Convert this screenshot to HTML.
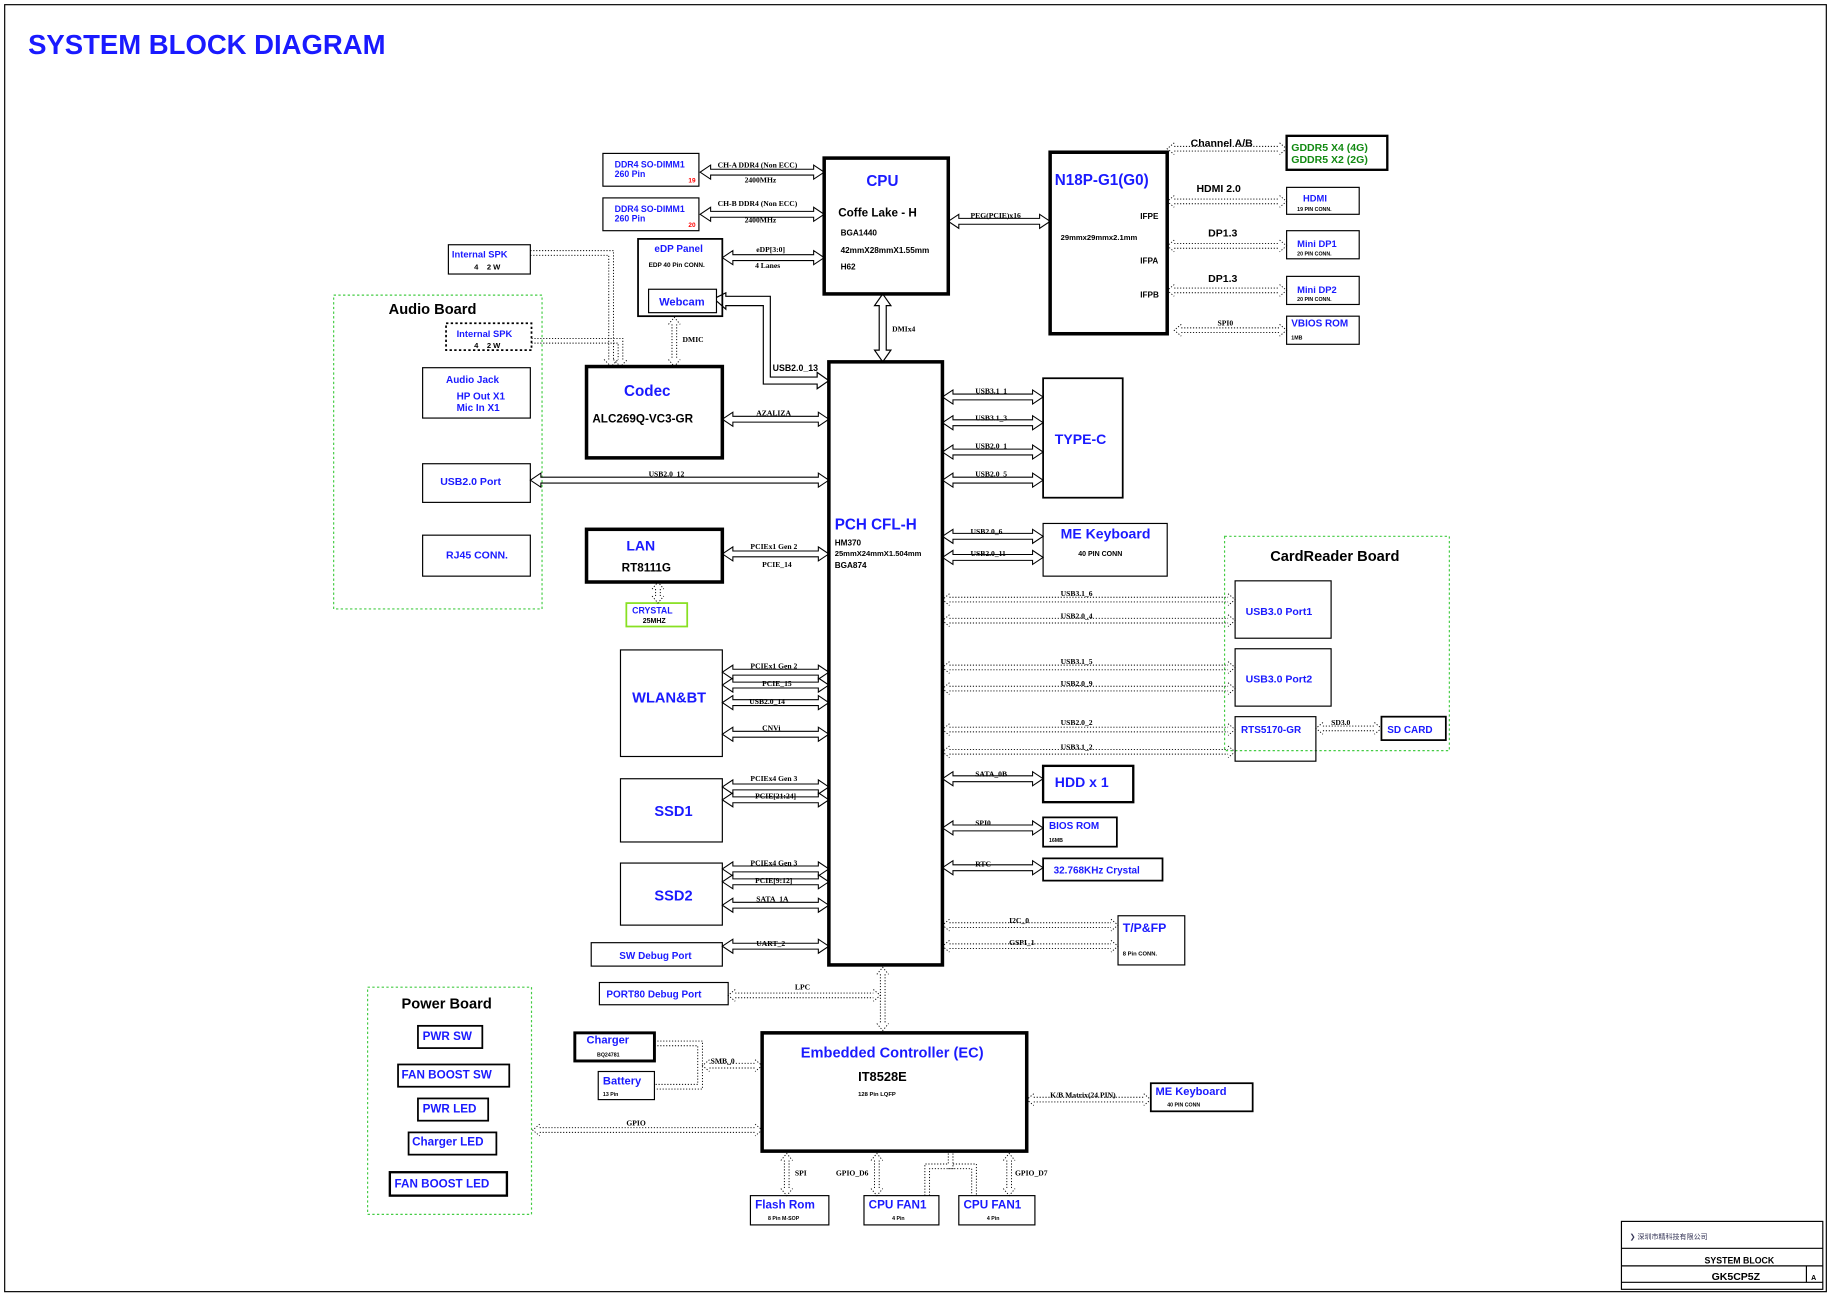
<!DOCTYPE html>
<html><head><meta charset="utf-8"><style>
html,body{margin:0;padding:0;background:#fff;width:1831px;height:1294px;overflow:hidden}
svg{display:block}
.b{font-family:"Liberation Sans",sans-serif;font-weight:bold;fill:#1a1aff}
.k{font-family:"Liberation Sans",sans-serif;font-weight:bold;fill:#000}
.s{font-family:"Liberation Serif",serif;font-weight:bold;fill:#000;font-size:6.5px}
.g{font-family:"Liberation Sans",sans-serif;font-weight:bold;fill:#128a12}
rect{fill:none;stroke:#000}
rect.gr{stroke:#44cc44}
rect.cy{stroke:#88e022}
</style></head><body>
<svg id="s" width="1831" height="1294" viewBox="0 0 1564 1105" preserveAspectRatio="none" xmlns="http://www.w3.org/2000/svg">
<rect x="4" y="4" width="1556" height="1099" stroke-width="1"/>
<text x="24" y="46" class="b" font-size="23.5">SYSTEM BLOCK DIAGRAM</text>

<!-- DDR -->
<rect x="515" y="131" width="82" height="28"/>
<text x="525" y="143" class="b" font-size="7.5">DDR4 SO-DIMM1</text><text x="525" y="151" class="b" font-size="7.5">260 Pin</text><text x="588" y="156" font-size="5.5" fill="red" font-family="Liberation Sans" font-weight="bold">19</text>
<rect x="515" y="169" width="82" height="28"/>
<text x="525" y="181" class="b" font-size="7.5">DDR4 SO-DIMM1</text><text x="525" y="189" class="b" font-size="7.5">260 Pin</text><text x="588" y="194" font-size="5.5" fill="red" font-family="Liberation Sans" font-weight="bold">20</text>
<text x="613" y="143" class="s">CH-A DDR4 (Non ECC)</text><text x="636" y="156" class="s">2400MHz</text>
<text x="613" y="176" class="s">CH-B DDR4 (Non ECC)</text><text x="636" y="190" class="s">2400MHz</text>

<!-- CPU -->
<rect x="704" y="135" width="106" height="116" stroke-width="3"/>
<text x="740" y="159" class="b" font-size="13">CPU</text>
<text x="716" y="185" class="k" font-size="10">Coffe Lake - H</text>
<text x="718" y="201" class="k" font-size="7">BGA1440</text>
<text x="718" y="216" class="k" font-size="7">42mmX28mmX1.55mm</text>
<text x="718" y="230" class="k" font-size="7">H62</text>
<text x="829" y="186" class="s">PEG(PCIE)x16</text>
<text x="762" y="283" class="s">DMIx4</text>

<!-- eDP -->
<rect x="545" y="204" width="72" height="66" stroke-width="1.5"/>
<text x="559" y="215" class="b" font-size="8.5">eDP Panel</text>
<text x="554" y="228" class="k" font-size="5.5">EDP 40 Pin CONN.</text>
<rect x="554" y="247" width="58" height="20"/>
<text x="563" y="261" class="b" font-size="9.5">Webcam</text>
<text x="646" y="215" class="s">eDP[3:0]</text><text x="645" y="229" class="s">4 Lanes</text>
<text x="583" y="292" class="s">DMIC</text>

<!-- GPU -->
<rect x="897" y="130" width="100" height="155" stroke-width="3"/>
<text x="901" y="158" class="b" font-size="13">N18P-G1(G0)</text>
<text x="974" y="187" class="k" font-size="7">IFPE</text>
<text x="906" y="205" class="k" font-size="6.5">29mmx29mmx2.1mm</text>
<text x="974" y="225" class="k" font-size="7">IFPA</text>
<text x="974" y="254" class="k" font-size="7">IFPB</text>
<text x="1017" y="125" class="k" font-size="9">Channel A/B</text>
<text x="1022" y="164" class="k" font-size="9">HDMI 2.0</text>
<text x="1032" y="202" class="k" font-size="9">DP1.3</text>
<text x="1032" y="241" class="k" font-size="9">DP1.3</text>
<text x="1040" y="278" class="s">SPI0</text>
<rect x="1099" y="116" width="86" height="29" stroke-width="2"/>
<text x="1103" y="129" class="g" font-size="9">GDDR5 X4 (4G)</text><text x="1103" y="139" class="g" font-size="9">GDDR5 X2 (2G)</text>
<rect x="1099" y="160" width="62" height="23"/>
<text x="1113" y="172" class="b" font-size="8">HDMI</text><text x="1108" y="180" class="k" font-size="4.5">19 PIN CONN.</text>
<rect x="1099" y="197" width="62" height="24"/>
<text x="1108" y="211" class="b" font-size="8">Mini DP1</text><text x="1108" y="218" class="k" font-size="4.5">20 PIN CONN.</text>
<rect x="1099" y="236" width="62" height="24"/>
<text x="1108" y="250" class="b" font-size="8">Mini DP2</text><text x="1108" y="257" class="k" font-size="4.5">20 PIN CONN.</text>
<rect x="1099" y="270" width="62" height="24"/>
<text x="1103" y="279" class="b" font-size="8.5">VBIOS ROM</text><text x="1103" y="290" class="k" font-size="4.5">1MB</text>

<!-- Audio -->
<rect x="383" y="209" width="70" height="25"/>
<text x="386" y="220" class="b" font-size="8">Internal SPK</text><text x="405" y="230" class="k" font-size="6.5">4&#160;&#160;&#160;&#160;2 W</text>
<rect x="285" y="252" width="178" height="268" class="gr" stroke-dasharray="2,2"/>
<text x="332" y="268" class="k" font-size="12.5">Audio Board</text>
<rect x="381" y="276" width="73" height="23" stroke-dasharray="2,2" stroke-width="1.5"/>
<text x="390" y="288" class="b" font-size="8">Internal SPK</text><text x="405" y="297" class="k" font-size="6.5">4&#160;&#160;&#160;&#160;2 W</text>
<rect x="361" y="314" width="92" height="43"/>
<text x="381" y="327" class="b" font-size="8.5">Audio Jack</text><text x="390" y="341" class="b" font-size="8.5">HP Out X1</text><text x="390" y="351" class="b" font-size="8.5">Mic In X1</text>
<rect x="361" y="396" width="92" height="33"/>
<text x="376" y="414" class="b" font-size="9">USB2.0 Port</text>
<rect x="361" y="457" width="92" height="35"/>
<text x="381" y="477" class="b" font-size="9">RJ45 CONN.</text>

<!-- Codec -->
<rect x="501" y="313" width="116" height="78" stroke-width="3"/>
<text x="533" y="338" class="b" font-size="13">Codec</text>
<text x="506" y="361" class="k" font-size="10">ALC269Q-VC3-GR</text>
<text x="646" y="355" class="s">AZALIZA</text>
<text x="660" y="317" class="k" font-size="7.5">USB2.0_13</text>
<text x="554" y="407" class="s">USB2.0_12</text>

<!-- LAN -->
<rect x="501" y="452" width="116" height="45" stroke-width="3"/>
<text x="535" y="470" class="b" font-size="12">LAN</text>
<text x="531" y="488" class="k" font-size="10">RT8111G</text>
<text x="641" y="469" class="s">PCIEx1 Gen 2</text><text x="651" y="484" class="s">PCIE_14</text>
<rect x="535" y="515" width="52" height="20" class="cy" stroke-width="1.5"/>
<text x="540" y="524" class="b" font-size="7.5">CRYSTAL</text><text x="549" y="532" class="k" font-size="6">25MHZ</text>

<!-- WLAN, SSD -->
<rect x="530" y="555" width="87" height="91"/>
<text x="540" y="600" class="b" font-size="12.5">WLAN&amp;BT</text>
<text x="641" y="571" class="s">PCIEx1 Gen 2</text><text x="651" y="586" class="s">PCIE_15</text><text x="640" y="601" class="s">USB2.0_14</text><text x="651" y="624" class="s">CNVi</text>
<rect x="530" y="665" width="87" height="54"/>
<text x="559" y="697" class="b" font-size="12.5">SSD1</text>
<text x="641" y="667" class="s">PCIEx4 Gen 3</text><text x="645" y="682" class="s">PCIE[21:24]</text>
<rect x="530" y="737" width="87" height="53"/>
<text x="559" y="769" class="b" font-size="12.5">SSD2</text>
<text x="641" y="739" class="s">PCIEx4 Gen 3</text><text x="645" y="754" class="s">PCIE[9:12]</text><text x="646" y="770" class="s">SATA_1A</text>
<rect x="505" y="805" width="112" height="20"/>
<text x="529" y="819" class="b" font-size="8.5">SW Debug Port</text>
<text x="646" y="808" class="s">UART_2</text>
<rect x="512" y="839" width="110" height="19"/>
<text x="518" y="852" class="b" font-size="8.5">PORT80 Debug Port</text>
<text x="679" y="845" class="s">LPC</text>

<!-- PCH -->
<rect x="708" y="309" width="97" height="515" stroke-width="3"/>
<text x="713" y="452" class="b" font-size="13">PCH CFL-H</text>
<text x="713" y="466" class="k" font-size="7">HM370</text>
<text x="713" y="475" class="k" font-size="6.5">25mmX24mmX1.504mm</text>
<text x="713" y="485" class="k" font-size="7">BGA874</text>

<rect x="891" y="323" width="68" height="102" stroke-width="1.5"/>
<text x="901" y="379" class="b" font-size="12">TYPE-C</text>
<text x="833" y="336" class="s">USB3.1_1</text><text x="833" y="359" class="s">USB3.1_3</text><text x="833" y="383" class="s">USB2.0_1</text><text x="833" y="407" class="s">USB2.0_5</text>
<rect x="891" y="447" width="106" height="45"/>
<text x="906" y="460" class="b" font-size="12">ME Keyboard</text><text x="921" y="475" class="k" font-size="6">40 PIN CONN</text>
<text x="829" y="456" class="s">USB2.0_6</text><text x="829" y="475" class="s">USB2.0_11</text>

<rect x="1046" y="458" width="192" height="183" class="gr" stroke-dasharray="2,2"/>
<text x="1085" y="479" class="k" font-size="12.5">CardReader Board</text>
<rect x="1055" y="496" width="82" height="49"/>
<text x="1064" y="525" class="b" font-size="9">USB3.0 Port1</text>
<rect x="1055" y="554" width="82" height="49"/>
<text x="1064" y="583" class="b" font-size="9">USB3.0 Port2</text>
<rect x="1055" y="612" width="69" height="38"/>
<text x="1060" y="626" class="b" font-size="8.5">RTS5170-GR</text>
<rect x="1180" y="612" width="55" height="20" stroke-width="1.5"/>
<text x="1185" y="626" class="b" font-size="8.5">SD CARD</text>
<text x="1137" y="619" class="s">SD3.0</text>
<text x="906" y="509" class="s">USB3.1_6</text><text x="906" y="528" class="s">USB2.0_4</text>
<text x="906" y="567" class="s">USB3.1_5</text><text x="906" y="586" class="s">USB2.0_9</text>
<text x="906" y="619" class="s">USB2.0_2</text><text x="906" y="640" class="s">USB3.1_2</text>

<rect x="891" y="654" width="77" height="31" stroke-width="2"/>
<text x="901" y="672" class="b" font-size="12">HDD x 1</text>
<text x="833" y="663" class="s">SATA_0B</text>
<rect x="891" y="698" width="63" height="25" stroke-width="1.5"/>
<text x="896" y="708" class="b" font-size="8.5">BIOS ROM</text><text x="896" y="719" class="k" font-size="4.5">16MB</text>
<text x="833" y="705" class="s">SPI0</text>
<rect x="891" y="733" width="102" height="19" stroke-width="1.5"/>
<text x="900" y="746" class="b" font-size="8.5">32.768KHz Crystal</text>
<text x="833" y="740" class="s">RTC</text>
<rect x="955" y="782" width="57" height="42"/>
<text x="959" y="796" class="b" font-size="10.5">T/P&amp;FP</text><text x="959" y="816" class="k" font-size="5">8 Pin CONN.</text>
<text x="862" y="788" class="s">I2C_0</text><text x="862" y="807" class="s">GSPI_1</text>

<!-- Power -->
<rect x="314" y="843" width="140" height="194" class="gr" stroke-dasharray="2,2"/>
<text x="343" y="861" class="k" font-size="12.5">Power Board</text>
<rect x="357" y="876" width="55" height="19" stroke-width="1.5"/><text x="361" y="888" class="b" font-size="10">PWR SW</text>
<rect x="340" y="909" width="95" height="19" stroke-width="1.5"/><text x="343" y="921" class="b" font-size="10">FAN BOOST SW</text>
<rect x="357" y="938" width="60" height="19" stroke-width="1.5"/><text x="361" y="950" class="b" font-size="10">PWR LED</text>
<rect x="349" y="967" width="75" height="19" stroke-width="1.5"/><text x="352" y="978" class="b" font-size="10">Charger LED</text>
<rect x="333" y="1001" width="100" height="20" stroke-width="2"/><text x="337" y="1014" class="b" font-size="10">FAN BOOST LED</text>
<text x="535" y="961" class="s">GPIO</text>

<rect x="491" y="882" width="68" height="24" stroke-width="2.5"/>
<text x="501" y="891" class="b" font-size="9.5">Charger</text><text x="510" y="902" class="k" font-size="4.5" fill="#888">BQ24781</text>
<rect x="511" y="915" width="48" height="24"/>
<text x="515" y="926" class="b" font-size="9.5">Battery</text><text x="515" y="936" class="k" font-size="4.5">13 Pin</text>
<text x="607" y="908" class="s">SMB_0</text>

<rect x="651" y="882" width="226" height="101" stroke-width="3"/>
<text x="684" y="903" class="b" font-size="12.5">Embedded Controller (EC)</text>
<text x="733" y="923" class="k" font-size="11">IT8528E</text>
<text x="733" y="936" class="k" font-size="5">128 Pin LQFP</text>
<text x="897" y="937" class="s">K/B Matrix(24 PIN)</text>
<rect x="983" y="925" width="87" height="24" stroke-width="1.5"/>
<text x="987" y="935" class="b" font-size="9.5">ME Keyboard</text><text x="997" y="945" class="k" font-size="4.5">40 PIN CONN</text>

<rect x="641" y="1021" width="67" height="25"/><text x="645" y="1032" class="b" font-size="10">Flash Rom</text><text x="656" y="1042" class="k" font-size="4.5">8 Pin M-SOP</text>
<rect x="738" y="1021" width="64" height="25"/><text x="742" y="1032" class="b" font-size="10">CPU FAN1</text><text x="762" y="1042" class="k" font-size="4.5">4 Pin</text>
<rect x="819" y="1021" width="65" height="25"/><text x="823" y="1032" class="b" font-size="10">CPU FAN1</text><text x="843" y="1042" class="k" font-size="4.5">4 Pin</text>
<text x="679" y="1004" class="s">SPI</text><text x="714" y="1004" class="s">GPIO_D6</text><text x="867" y="1004" class="s">GPIO_D7</text>

<!-- title block -->
<rect x="1385" y="1043" width="172" height="58"/>
<line x1="1385" y1="1066" x2="1557" y2="1066" stroke="#000"/>
<line x1="1385" y1="1081" x2="1557" y2="1081" stroke="#000"/>
<line x1="1385" y1="1095" x2="1557" y2="1095" stroke="#000"/>
<line x1="1543" y1="1081" x2="1543" y2="1095" stroke="#000"/>
<text x="1392" y="1058" font-size="6" fill="#335" font-family="Liberation Sans,Noto Sans CJK SC,sans-serif">❯ 深圳市精科技有限公司</text>
<text x="1456" y="1079" class="k" font-size="7.5">SYSTEM BLOCK</text>
<text x="1462" y="1093" class="k" font-size="9">GK5CP5Z</text>
<text x="1547" y="1093" class="k" font-size="6">A</text>
<g id="c" fill="none" stroke="#000"></g>
</svg>
<script>
var g=document.getElementById('c'),NS='http://www.w3.org/2000/svg';
function el(t,a){var e=document.createElementNS(NS,t);for(var k in a)e.setAttribute(k,a[k]);g.appendChild(e);return e;}
function HH(x1,y,x2){var s=2.5,h=6,l=9;el('polygon',{points:[x1,y,x1+l,y-h,x1+l,y-s,x2-l,y-s,x2-l,y-h,x2,y,x2-l,y+h,x2-l,y+s,x1+l,y+s,x1+l,y+h].join(' '),'stroke-width':'0.9'});}
function HV(x,y1,y2){var s=3,h=7,l=10;el('polygon',{points:[x,y1,x+h,y1+l,x+s,y1+l,x+s,y2-l,x+h,y2-l,x,y2,x-h,y2-l,x-s,y2-l,x-s,y1+l,x-h,y1+l].join(' ')});}
var D={'stroke-dasharray':'1,1.5','stroke-width':'0.8'};
function dl(p){var a={points:p.join(' ')};for(var k in D)a[k]=D[k];el('polyline',a);}
function DH(x1,y,x2){var l=6,h=5;dl([x1+l,y-2,x2-l,y-2]);dl([x1+l,y+2,x2-l,y+2]);dl([x1+l,y-h,x1,y,x1+l,y+h]);dl([x2-l,y-h,x2,y,x2-l,y+h]);}
function DV(x,y1,y2){var l=6,h=5;dl([x-2,y1+l,x-2,y2-l]);dl([x+2,y1+l,x+2,y2-l]);dl([x-h,y1+l,x,y1,x+h,y1+l]);dl([x-h,y2-l,x,y2,x+h,y2-l]);}
HH(598,147,704);HH(598,183,704);HH(617,220,704);HH(810,189,897);HV(754,251,309);
el('polyline',{points:'612,254 620,250 620,253 658,253 658,322 698,322 698,318 708,325 698,332 698,328 652,328 652,261 620,261 620,264 612,257'});
HH(617,358,708);HH(453,410,708);HH(617,473,708);HH(617,574,708);HH(617,585,708);HH(617,600,708);HH(617,627,708);
HH(617,672,708);HH(617,683,708);HH(617,742,708);HH(617,753,708);HH(617,773,708);HH(617,808,708);
HH(805,339,891);HH(805,361,891);HH(805,386,891);HH(805,410,891);HH(805,458,891);HH(805,476,891);
HH(805,665,891);HH(805,707,891);HH(805,741,891);
DH(805,512,1055);DH(805,530,1055);DH(805,570,1055);DH(805,588,1055);DH(805,623,1055);DH(805,642,1055);
DH(1124,622,1180);DH(805,790,955);DH(805,808,955);
DH(997,127,1099);DH(997,172,1099);DH(997,210,1099);DH(997,248,1099);DH(1003,282,1099);
DV(576,271,313);DV(562,497,515);
dl([453,214,524,214,524,307]);dl([453,218,520,218,520,307]);dl([516,307,522,313,528,307]);
dl([454,289,532,289,532,307]);dl([454,293,528,293,528,307]);dl([524,307,530,313,536,307]);
DH(622,850,752);DV(754,826,880);
DH(455,965,651);DH(877,939,983);
dl([559,889,600,889,600,930,559,930]);dl([559,893,596,893,596,926,559,926]);DH(600,910,651);
DV(672,985,1021);DV(749,985,1021);DV(862,985,1021);
dl([810,985,810,994,790,994,790,1021]);dl([814,985,814,998,794,998,794,1021]);dl([810,998,830,998,830,1021]);dl([814,994,834,994,834,1021]);
</script>
</body></html>
